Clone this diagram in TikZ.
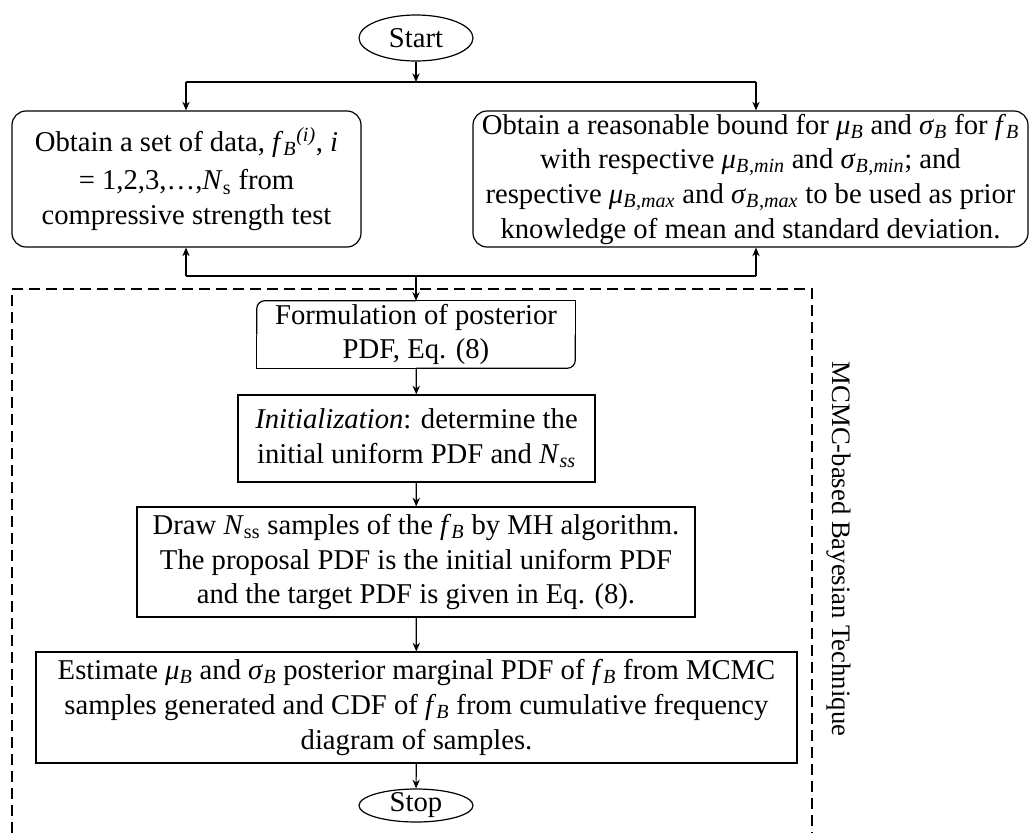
\documentclass[tikz,border=0pt]{standalone}
\usepackage{fontspec}
\setmainfont{Liberation Serif}
\usetikzlibrary{arrows.meta,shapes.geometric}
\newcommand\isub[1]{\textsubscript{\itshape #1}}
\newcommand\fB{\textit{f}\isub{B}}
\newcommand\muB{\textit{μ}\isub{B}}
\newcommand\sigB{\textit{σ}\isub{B}}
\begin{document}
\begin{tikzpicture}[x=0.75pt,y=-0.75pt,
  line/.style={line width=0.9pt},
  arr/.style={line width=0.9pt,-{Stealth[length=6.5pt,width=5.5pt]}},
  txtfont/.style={font=\fontsize{21.5pt}{26pt}\selectfont},
  box/.style={draw,line width=0.9pt,align=center,inner sep=0pt,txtfont},
  rbox/.style={box,rounded corners=10.5pt},
  plain/.style={align=center,inner sep=0pt,txtfont},
  oval/.style={draw,line width=0.9pt,ellipse,inner sep=0pt,txtfont},
  dashbox/.style={line width=0.9pt,dash pattern=on 8.25pt off 4.5pt}
]
\useasboundingbox (0,0) rectangle (1032,833);

% nodes
\node[oval,minimum width=85.5pt,minimum height=34.5pt] (start) at (416,38) {Start};
\node[rbox,minimum width=261.75pt,minimum height=102pt] (A) at (186.5,179)
  {Obtain a set of data, \fB\textsuperscript{\itshape (i)}, \textit{i}\\[3pt]
   = 1,2,3,…,\textit{N}\textsubscript{s} from\\ compressive strength test};
\node[rbox,minimum width=416.25pt,minimum height=102pt] (B) at (750.5,179)
  {Obtain a reasonable bound for \muB{} and \sigB{} for \fB\\
   with respective \muB\isub{,min} and \sigB\isub{,min}; and\\
   respective \muB\isub{,max} and \sigB\isub{,max} to be used as prior\\
   knowledge of mean and standard deviation.};
\node[plain,minimum width=238.5pt,minimum height=50.25pt] (C) at (416,334.5)
  {Formulation of posterior\\ PDF, Eq. (8)};
\node[box,minimum width=267.75pt,minimum height=65.25pt] (D) at (416.5,438.5)
  {\textit{Initialization}: determine the\\ initial uniform PDF and \textit{N}\isub{ss}};
\node[box,minimum width=418.5pt,minimum height=82.5pt] (E) at (416,562)
  {Draw \textit{N}\textsubscript{ss} samples of the \fB{} by MH algorithm.\\
   The proposal PDF is the initial uniform PDF\\
   and the target PDF is given in Eq. (8).};
\node[box,minimum width=570.75pt,minimum height=83.25pt] (F) at (416.5,707.5)
  {Estimate \muB{} and \sigB{} posterior marginal PDF of \fB{} from MCMC\\
   samples generated and CDF of \fB{} from cumulative frequency\\
   diagram of samples.};
\node[oval,minimum width=85.5pt,minimum height=24.75pt,text height=12pt,text depth=3pt] (G) at (416,805.5) {Stop};
\node[align=center,inner sep=0pt,font=\fontsize{20pt}{24pt}\selectfont,rotate=-90] (lbl) at (839,549) {MCMC-based Bayesian Technique};

% Formulation box outline: top-left and bottom-right rounded
\draw[line,rounded corners=6pt] (C.west) -- (C.north west) -- (C.north);
\draw[line] (C.north) -- (C.north east) -- (C.east);
\draw[line,rounded corners=6pt] (C.east) -- (C.south east) -- (C.south);
\draw[line] (C.south) -- (C.south west) -- (C.west);

% dashed frame
\coordinate (dbl) at (12,833);
\coordinate (dtl) at (12,289);
\coordinate (dtr) at (812,289);
\coordinate (dbr) at (812,833);
\draw[dashbox] (dbl) -- (dtl) -- (dtr) -- (dbr);

% junction coordinates
\coordinate (jt) at (416,82);
\coordinate (jtl) at (186,82);
\coordinate (jtr) at (756,82);
\coordinate (jb) at (416,276);
\coordinate (jbl) at (186,276);
\coordinate (jbr) at (756,276);

% connectors
\draw[arr] (start) -- (jt);
\draw[line] (jtl) -- (jtr);
\draw[arr] (jtl) -- (jtl |- A.north);
\draw[arr] (jtr) -- (jtr |- B.north);
\draw[line] (jbl) -- (jbr);
\draw[arr] (jbl) -- (jbl |- A.south);
\draw[arr] (jbr) -- (jbr |- B.south);
\draw[arr] (jb) -- (C.north);
\draw[arr] (C) -- (D);
\draw[arr] (D) -- (E);
\draw[arr] (E) -- (F);
\draw[arr] (F) -- (G);
\end{tikzpicture}
\end{document}
